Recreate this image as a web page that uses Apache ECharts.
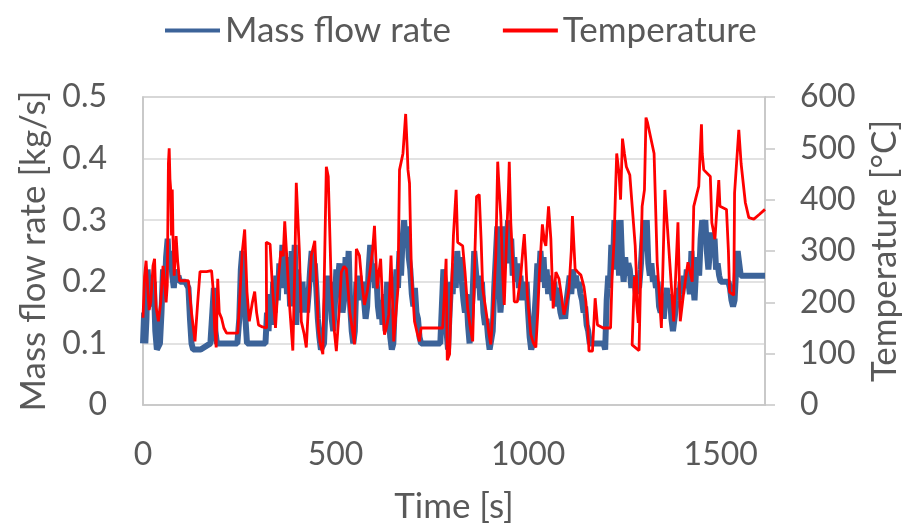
<!DOCTYPE html>
<html>
<head>
<meta charset="utf-8">
<script src="https://cdn.jsdelivr.net/npm/echarts@6/dist/echarts.min.js"></script>
<style>
  html, body { margin: 0; padding: 0; background: #fff; }
  #chart { width: 910px; height: 529px; }
</style>
</head>
<body>
<div id="chart"></div>
<script>
// series names
var seriesNames = ['Mass flow rate', 'Temperature'];

// [time s, mass flow rate kg/s]
var massFlow = [
  [0,0.10],[3,0.15],[6,0.10],[9,0.14],[12,0.22],[16,0.18],[20,0.21],[24,0.16],[28,0.20],[32,0.12],
  [36,0.09],[40,0.09],[44,0.10],[48,0.15],[52,0.22],[56,0.18],[60,0.24],[64,0.27],[68,0.22],[72,0.25],
  [76,0.21],[80,0.19],[84,0.22],[88,0.20],[92,0.21],[96,0.20],[110,0.20],[118,0.19],[122,0.14],[126,0.10],
  [130,0.09],[150,0.09],[175,0.10],[180,0.15],[184,0.19],[188,0.12],[192,0.10],[220,0.10],[245,0.10],[250,0.14],
  [254,0.22],[258,0.25],[262,0.20],[266,0.14],[270,0.10],[300,0.10],[318,0.10],[322,0.15],[326,0.12],[330,0.18],
  [334,0.13],[338,0.20],[342,0.15],[346,0.21],[350,0.17],[354,0.23],[358,0.19],[362,0.26],[366,0.20],[370,0.24],
  [374,0.18],[378,0.22],[382,0.16],[386,0.25],[390,0.20],[394,0.26],[398,0.13],[402,0.22],[406,0.18],[410,0.15],
  [414,0.20],[418,0.16],[422,0.19],[426,0.15],[430,0.18],[434,0.22],[438,0.25],[442,0.20],[446,0.23],[450,0.19],
  [454,0.14],[458,0.11],[462,0.09],[466,0.09],[470,0.10],[474,0.16],[478,0.21],[482,0.18],[486,0.20],[490,0.14],
  [494,0.12],[498,0.16],[502,0.22],[506,0.20],[510,0.23],[514,0.18],[518,0.15],[522,0.17],[526,0.24],[530,0.20],
  [534,0.25],[538,0.16],[542,0.12],[546,0.10],[550,0.12],[554,0.20],[558,0.17],[562,0.21],[566,0.18],[570,0.20],
  [574,0.17],[578,0.14],[582,0.16],[586,0.22],[590,0.26],[594,0.20],[598,0.23],[602,0.19],[606,0.21],[610,0.16],
  [614,0.14],[618,0.17],[622,0.13],[626,0.18],[630,0.12],[634,0.20],[638,0.15],[642,0.11],[646,0.09],[650,0.10],
  [654,0.17],[658,0.22],[662,0.19],[666,0.25],[670,0.21],[674,0.27],[678,0.30],[682,0.26],[686,0.29],[690,0.24],
  [694,0.22],[698,0.18],[702,0.16],[706,0.19],[710,0.15],[714,0.14],[718,0.11],[722,0.10],[772,0.10],[776,0.16],
  [780,0.22],[784,0.20],[788,0.12],[792,0.09],[796,0.15],[800,0.20],[804,0.18],[808,0.23],[812,0.19],[816,0.25],
  [820,0.21],[824,0.24],[828,0.20],[832,0.17],[836,0.15],[840,0.18],[844,0.13],[848,0.10],[852,0.10],[856,0.18],
  [860,0.25],[864,0.22],[868,0.19],[872,0.21],[876,0.17],[880,0.20],[884,0.15],[888,0.13],[892,0.14],[896,0.11],
  [900,0.09],[904,0.09],[908,0.12],[912,0.19],[916,0.24],[920,0.29],[924,0.22],[928,0.15],[932,0.18],[936,0.24],
  [940,0.29],[944,0.26],[948,0.30],[952,0.23],[956,0.27],[960,0.21],[964,0.24],[968,0.20],[972,0.23],[976,0.19],
  [980,0.21],[984,0.17],[988,0.20],[992,0.18],[996,0.20],[1000,0.15],[1004,0.11],[1008,0.09],[1012,0.10],[1016,0.14],
  [1020,0.18],[1024,0.23],[1028,0.20],[1032,0.25],[1036,0.21],[1040,0.24],[1044,0.19],[1048,0.22],[1052,0.18],[1056,0.21],
  [1060,0.19],[1064,0.17],[1068,0.20],[1072,0.16],[1076,0.19],[1080,0.17],[1084,0.15],[1088,0.14],[1092,0.16],[1096,0.14],
  [1100,0.17],[1104,0.19],[1108,0.21],[1112,0.18],[1116,0.22],[1120,0.20],[1124,0.21],[1128,0.19],[1132,0.20],[1136,0.18],
  [1140,0.17],[1144,0.15],[1148,0.16],[1152,0.13],[1156,0.12],[1160,0.10],[1196,0.10],[1200,0.09],[1204,0.17],[1208,0.21],
  [1212,0.19],[1216,0.26],[1220,0.22],[1224,0.30],[1228,0.24],[1232,0.28],[1236,0.21],[1240,0.30],[1244,0.23],[1248,0.20],
  [1252,0.24],[1256,0.21],[1260,0.23],[1264,0.22],[1268,0.19],[1272,0.21],[1276,0.20],[1280,0.18],[1284,0.21],[1288,0.19],
  [1292,0.22],[1296,0.26],[1300,0.30],[1304,0.25],[1308,0.30],[1312,0.23],[1316,0.21],[1320,0.23],[1324,0.20],[1328,0.21],
  [1332,0.19],[1336,0.20],[1340,0.16],[1344,0.15],[1348,0.18],[1352,0.14],[1356,0.17],[1360,0.19],[1364,0.16],[1368,0.18],
  [1372,0.14],[1376,0.12],[1380,0.12],[1384,0.16],[1388,0.19],[1392,0.17],[1396,0.20],[1400,0.18],[1404,0.21],[1408,0.19],
  [1412,0.22],[1416,0.20],[1420,0.18],[1424,0.25],[1428,0.20],[1432,0.17],[1436,0.22],[1440,0.24],[1444,0.21],[1448,0.27],
  [1452,0.30],[1456,0.28],[1460,0.30],[1464,0.25],[1468,0.22],[1472,0.25],[1476,0.28],[1480,0.24],[1484,0.27],[1488,0.22],
  [1492,0.23],[1496,0.21],[1500,0.20],[1520,0.20],[1524,0.19],[1528,0.17],[1532,0.16],[1536,0.17],[1540,0.22],[1544,0.25],
  [1548,0.23],[1552,0.21],[1580,0.21],[1615,0.21]
];

// [time s, temperature degC] - time is not always increasing (loops in the record)
var temperature = [
  [0,170],[4,250],[8,281],[12,230],[16,185],[20,200],[26,271],[30,285],[34,190],[40,163],
  [46,200],[52,271],[56,240],[60,200],[63,233],[66,471],[68,500],[70,440],[72,419],[74,330],
  [76,420],[78,323],[81,252],[86,329],[90,280],[95,242],[118,242],[126,180],[135,124],[142,200],
  [148,260],[165,260],[178,262],[182,227],[186,150],[190,112],[194,246],[198,180],[204,169],[210,150],
  [217,140],[246,140],[252,220],[258,300],[264,342],[270,220],[276,163],[284,200],[290,221],[295,180],
  [300,156],[310,152],[321,150],[320,317],[330,313],[336,230],[344,150],[352,250],[358,300],[364,290],
  [368,358],[374,280],[380,200],[389,106],[394,260],[398,433],[402,432],[406,300],[411,163],[418,140],
  [424,112],[430,200],[437,291],[446,320],[450,250],[455,150],[460,120],[467,99],[472,300],[476,464],
  [481,445],[485,445],[489,227],[496,150],[502,105],[509,180],[515,259],[522,270],[528,265],[533,220],
  [537,182],[543,150],[549,118],[554,304],[562,291],[568,240],[575,195],[582,220],[588,253],[596,300],
  [601,349],[608,227],[613,260],[617,285],[622,200],[627,137],[632,150],[638,176],[644,291],[648,200],
  [651,124],[657,180],[662,227],[666,458],[675,490],[682,567],[686,500],[688,458],[692,432],[695,323],
  [697,259],[701,210],[705,163],[712,140],[718,124],[722,150],[778,150],[783,220],[787,285],[790,87],
  [796,99],[800,200],[806,330],[813,419],[817,317],[830,310],[836,260],[843,188],[850,150],[856,124],
  [862,300],[866,406],[873,410],[878,320],[882,227],[892,176],[898,140],[903,118],[910,200],[916,291],
  [919,400],[921,474],[923,445],[929,368],[934,253],[938,195],[944,323],[949,420],[951,474],[955,355],
  [960,280],[964,201],[972,201],[977,230],[981,253],[986,300],[990,333],[994,280],[998,214],[1003,170],
  [1007,137],[1014,120],[1020,112],[1025,180],[1029,253],[1037,352],[1042,320],[1046,310],[1053,387],[1059,323],
  [1065,188],[1072,259],[1080,246],[1087,210],[1093,176],[1100,200],[1106,227],[1112,300],[1115,368],[1122,265],
  [1130,258],[1137,253],[1145,230],[1150,201],[1155,150],[1158,105],[1167,105],[1174,208],[1180,156],[1195,150],
  [1214,150],[1218,250],[1223,317],[1227,420],[1230,490],[1233,470],[1236,451],[1240,400],[1245,519],[1250,490],
  [1255,464],[1264,448],[1278,310],[1286,160],[1276,250],[1270,117],[1288,106],[1296,387],[1302,419],[1306,560],
  [1310,550],[1327,490],[1335,279],[1346,150],[1355,419],[1362,342],[1378,163],[1389,356],[1395,163],[1404,220],
  [1415,278],[1426,240],[1430,387],[1443,426],[1450,547],[1452,490],[1456,458],[1473,445],[1477,355],[1485,323],
  [1495,438],[1498,387],[1515,381],[1520,300],[1523,220],[1534,214],[1536,413],[1547,536],[1553,470],[1564,394],
  [1573,365],[1586,362],[1600,371],[1615,381]
];

var textColor = '#595959';
var gridColor = '#d9d9d9';
var axisColor = '#c6c6c6';
var font = 'Lato';

var chart = echarts.init(document.getElementById('chart'));

var option = {
  animation: false,
  backgroundColor: '#fff',
  color: ['#3c6399', '#ff0000'],
  legend: {
    data: seriesNames,
    top: 8,
    left: 160,
    icon: 'rect',
    itemWidth: 55,
    itemHeight: 4,
    itemGap: 52,
    textStyle: { fontSize: 35, color: textColor, fontFamily: font }
  },
  grid: {
    left: 143, right: 143, top: 97, bottom: 121,
    show: true, borderColor: axisColor, borderWidth: 1.5
  },
  xAxis: {
    type: 'value',
    min: 0, max: 1615, interval: 500,
    name: 'Time [s]',
    nameLocation: 'middle',
    nameGap: 84,
    nameTextStyle: { fontSize: 35, color: textColor, fontFamily: font },
    axisLine: { show: true, lineStyle: { color: axisColor, width: 1.5 } },
    axisTick: { show: false },
    splitLine: { show: false },
    axisLabel: {
      showMaxLabel: false, margin: 34, fontSize: 32, color: textColor, fontFamily: font,
      formatter: function (v) { return String(v); }
    }
  },
  yAxis: [
    {
      type: 'value',
      min: 0, max: 0.5, interval: 0.1,
      name: 'Mass flow rate [kg/s]',
      nameLocation: 'middle',
      nameGap: 90,
      nameTextStyle: { fontSize: 35, color: textColor, fontFamily: font },
      axisLine: { show: true, lineStyle: { color: axisColor, width: 1.5 } },
      axisTick: { show: false },
      splitLine: { show: true, lineStyle: { color: gridColor, width: 1.5 } },
      axisLabel: {
        margin: 36, fontSize: 32, color: textColor, fontFamily: font,
        formatter: function (v) { return v === 0 ? '0' : v.toFixed(1); }
      }
    },
    {
      type: 'value',
      min: 0, max: 600, interval: 100,
      name: 'Temperature [°C]',
      nameLocation: 'middle',
      nameGap: 102,
      nameTextStyle: { fontSize: 35, color: textColor, fontFamily: font },
      axisLine: { show: true, lineStyle: { color: axisColor, width: 1.5 } },
      axisTick: { show: true, inside: false, length: 10, lineStyle: { color: axisColor, width: 1.5 } },
      splitLine: { show: false },
      axisLabel: { margin: 35, fontSize: 32, color: textColor, fontFamily: font }
    }
  ],
  series: [
    {
      name: seriesNames[0],
      type: 'line',
      yAxisIndex: 0,
      symbol: 'none',
      lineStyle: { width: 6, color: '#3c6399' },
      data: massFlow
    },
    {
      name: seriesNames[1],
      type: 'line',
      yAxisIndex: 1,
      symbol: 'none',
      lineStyle: { width: 2.8, color: '#ff0000' },
      data: temperature
    }
  ]
};

chart.setOption(option);
</script>
</body>
</html>
